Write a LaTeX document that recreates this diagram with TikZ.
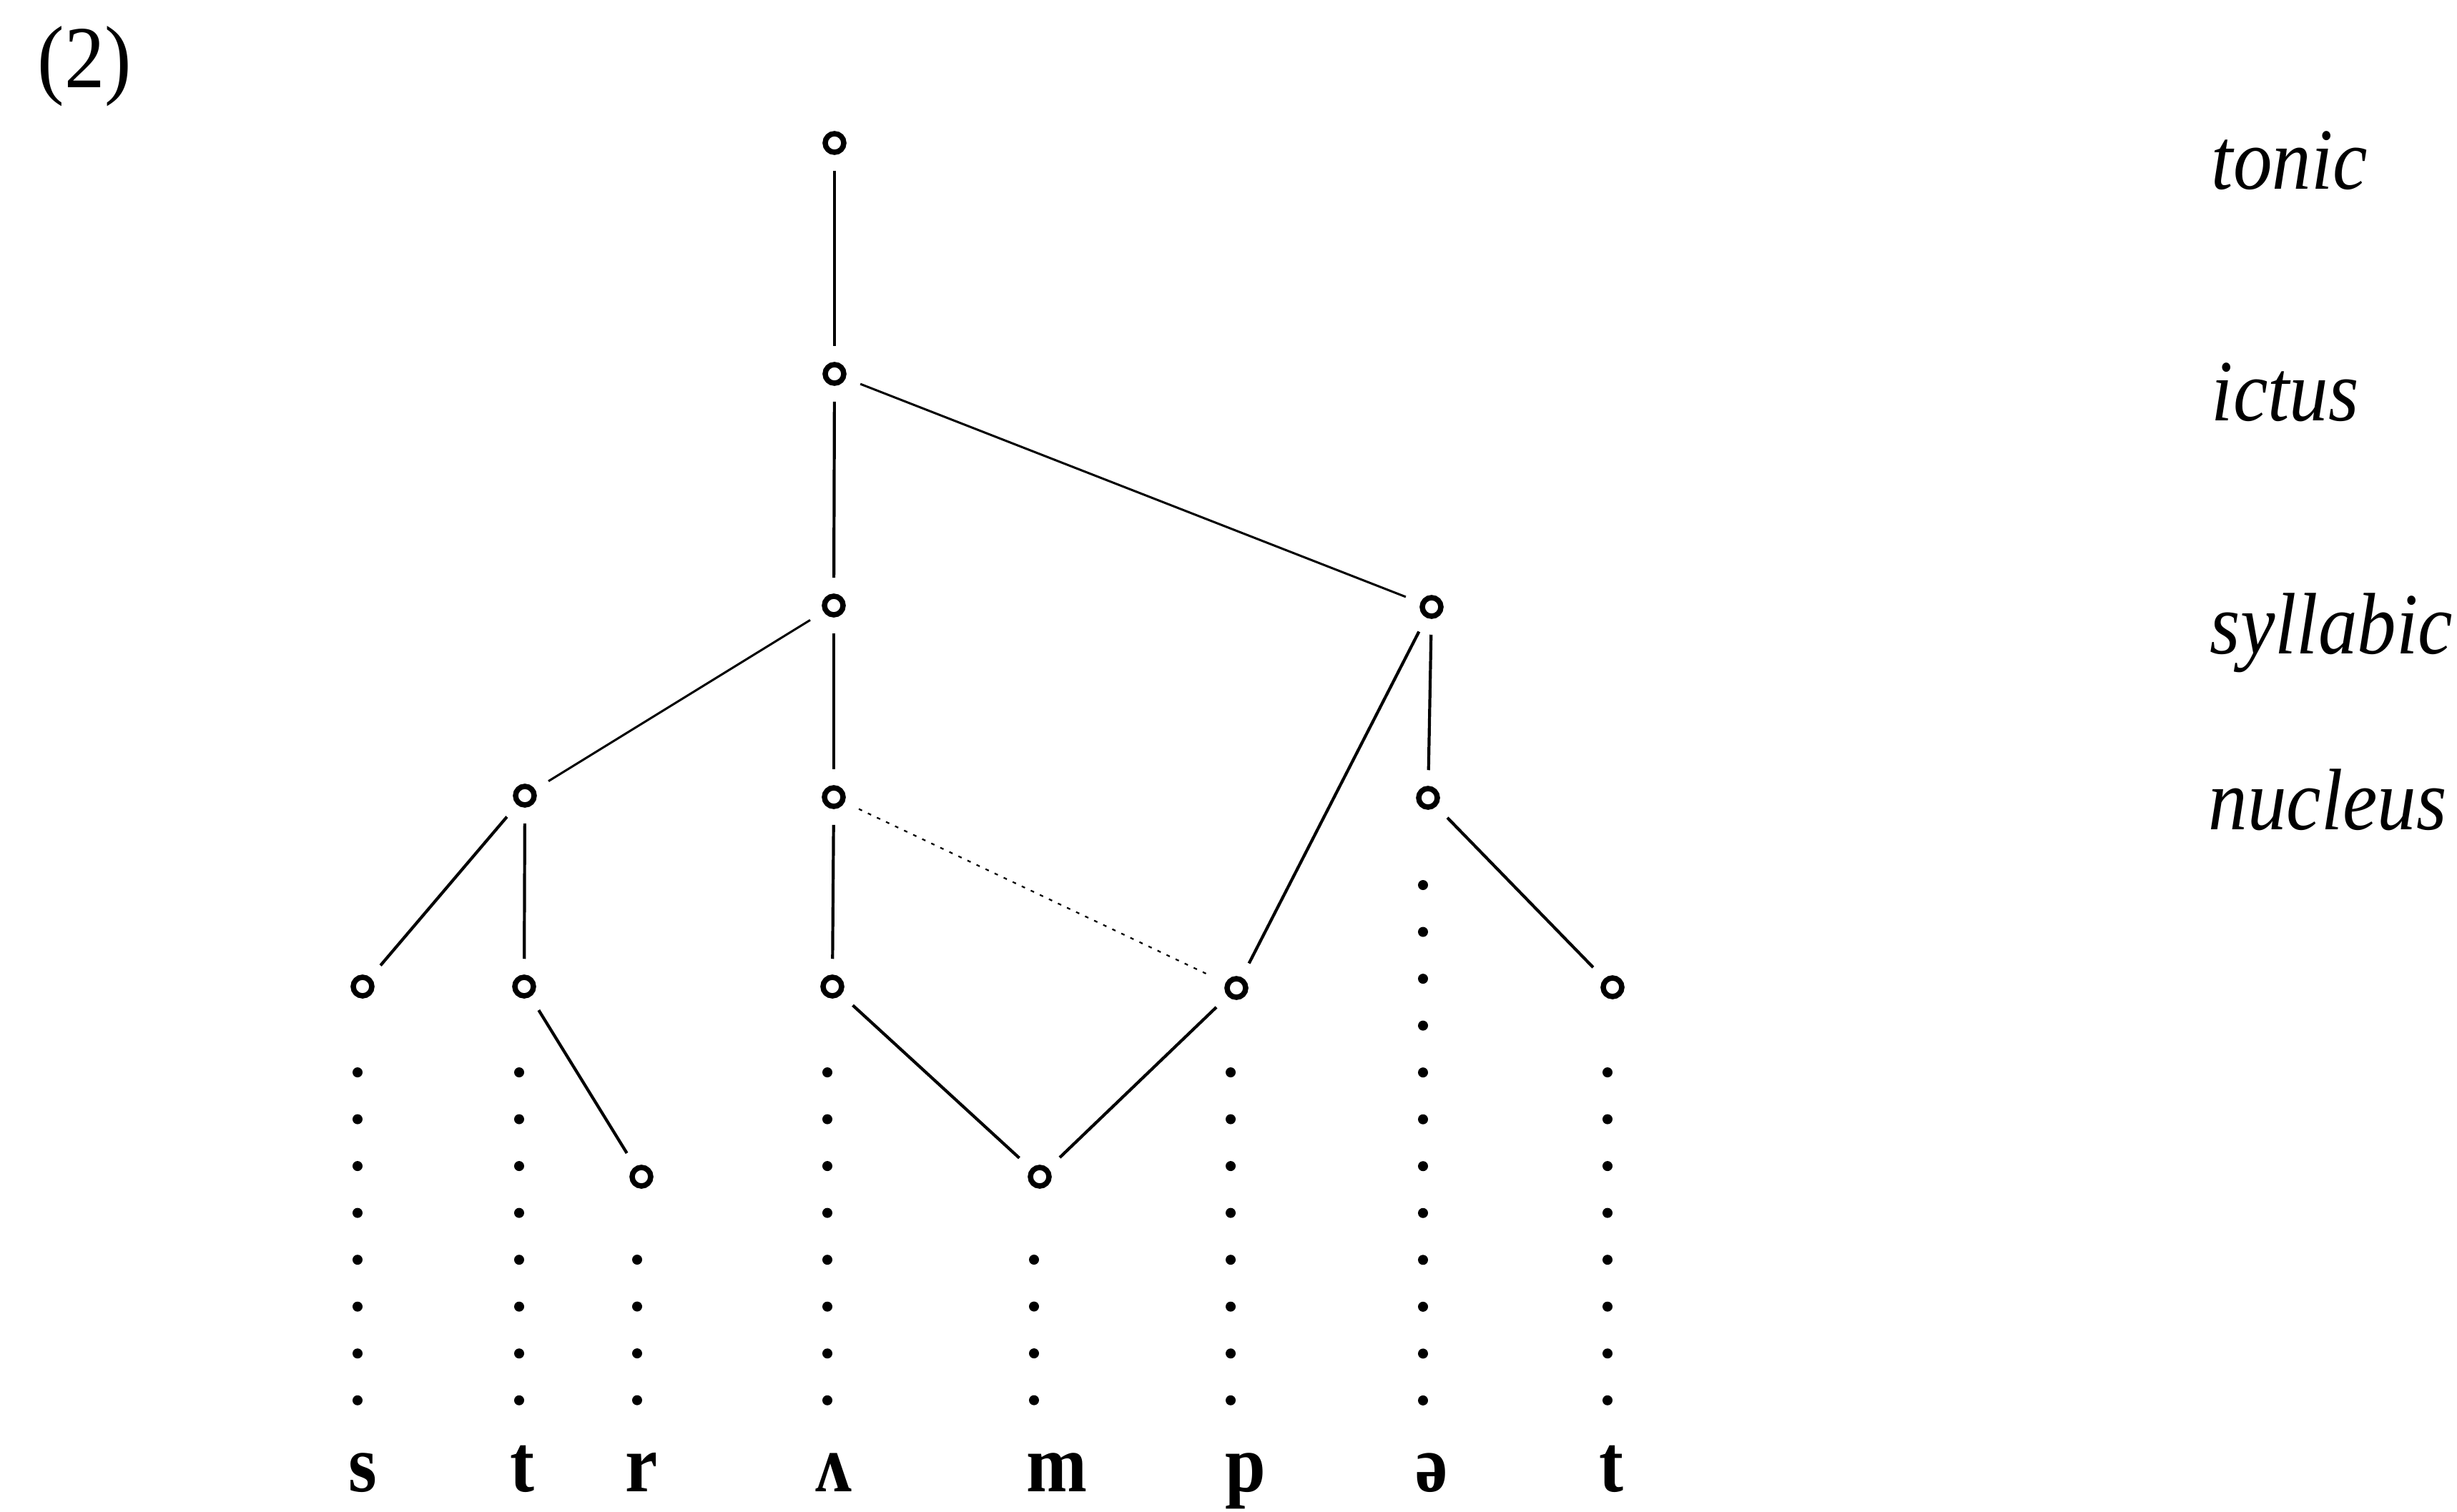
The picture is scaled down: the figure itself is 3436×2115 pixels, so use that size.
\documentclass[tikz,border=0pt]{standalone}
\usepackage{fontspec}
\usepackage{graphicx}
\setmainfont{Liberation Serif}
\begin{document}
\begin{tikzpicture}[x=0.01cm, y=-0.01cm,
  pt/.style={circle, draw, line width=0.075cm, minimum size=0.26cm, inner sep=0pt},
  ln/.style={line width=0.042cm, shorten <=0.22cm, shorten >=0.22cm},
  thinln/.style={line width=0.03cm, shorten <=0.22cm, shorten >=0.22cm},
  faintln/.style={line width=0.022cm, dash pattern=on 0.05cm off 0.09cm, shorten <=0.22cm, shorten >=0.22cm},
  dotcol/.style={line width=0.14cm, line cap=round, dash pattern=on 0pt off 0.655cm},
  lab/.style={anchor=base west, inner sep=0pt, font=\fontsize{31pt}{31pt}\selectfont\itshape},
  seg/.style={anchor=base, inner sep=0pt, font=\fontsize{29pt}{29pt}\selectfont\bfseries}]
\useasboundingbox (0,0) rectangle (3436,2115);
% example number
\node[anchor=base west, inner sep=0pt, font=\fontsize{32pt}{32pt}\selectfont] (num) at (52,122) {\scalebox{1}[1.1]{(2)}};
% tree nodes
\node[pt] (tonic) at (1167,200) {};
\node[pt] (ictus) at (1167,523) {};
\node[pt] (syl1) at (1166,847) {};
\node[pt] (syl2) at (2002,849) {};
\node[pt] (nT) at (734,1113) {};
\node[pt] (nA) at (1166,1115) {};
\node[pt] (nE) at (1997,1116) {};
\node[pt] (cs) at (507,1380) {};
\node[pt] (ct) at (733,1380) {};
\node[pt] (cA) at (1164,1380) {};
\node[pt] (cp) at (1729,1382) {};
\node[pt] (ct2) at (2255,1381) {};
\node[pt] (cr) at (897,1646) {};
\node[pt] (cm) at (1454,1646) {};
% connectors
\draw[ln] (tonic) -- (ictus);
\draw[ln] (ictus) -- (syl1);
\draw[thinln] (ictus) -- (syl2);
\draw[thinln] (syl1) -- (nT);
\draw[ln] (syl1) -- (nA);
\draw[ln] (syl2) -- (cp);
\draw[ln] (syl2) -- (nE);
\draw[ln] (nT) -- (cs);
\draw[ln] (nT) -- (ct);
\draw[ln] (nA) -- (cA);
\draw[faintln] (nA) -- (cp);
\draw[ln] (nE) -- (ct2);
\draw[ln] (ct) -- (cr);
\draw[ln] (cA) -- (cm);
\draw[ln] (cp) -- (cm);
% segments
\node[seg] (ls) at (507,2086) {\scalebox{1}[1.12]{s}};
\node[seg] (lt) at (730,2086) {\scalebox{1}[1.12]{t}};
\node[seg] (lr) at (897,2086) {\scalebox{1}[1.12]{r}};
\node[seg] (lA) at (1166,2086) {\scalebox{1}[1.12]{ʌ}};
\node[seg] (lm) at (1478,2086) {\scalebox{1}[1.12]{m}};
\node[seg] (lp) at (1742,2086) {\scalebox{1}[1.12]{p}};
\node[seg] (le) at (2002,2086) {\scalebox{1}[1.12]{ə}};
\node[seg] (lt2) at (2253,2086) {\scalebox{1}[1.12]{t}};
% dotted association columns
\coordinate (ds0) at (500,1500);   \coordinate (ds1) at (500,1960);
\coordinate (dt0) at (726,1500);   \coordinate (dt1) at (726,1960);
\coordinate (dr0) at (891,1762);   \coordinate (dr1) at (891,1960);
\coordinate (dA0) at (1157,1500);  \coordinate (dA1) at (1157,1960);
\coordinate (dm0) at (1446,1762);  \coordinate (dm1) at (1446,1960);
\coordinate (dp0) at (1721,1500);  \coordinate (dp1) at (1721,1960);
\coordinate (de0) at (1990,1238);  \coordinate (de1) at (1990,1960);
\coordinate (dt20) at (2248,1500); \coordinate (dt21) at (2248,1960);
\foreach \c in {s,t,r,A,m,p,e,t2}{\draw[dotcol] (d\c0) -- (d\c1);}
% level labels
\node[lab] (Ltonic) at (3092,264) {\scalebox{1}[1.12]{tonic}};
\node[lab] (Lictus) at (3092,588) {\scalebox{1}[1.12]{ictus}};
\node[lab] (Lsyl) at (3090,914) {\scalebox{1}[1.12]{syllabic}};
\node[lab] (Lnuc) at (3088,1160) {\scalebox{1}[1.12]{nucleus}};
\end{tikzpicture}
\end{document}
